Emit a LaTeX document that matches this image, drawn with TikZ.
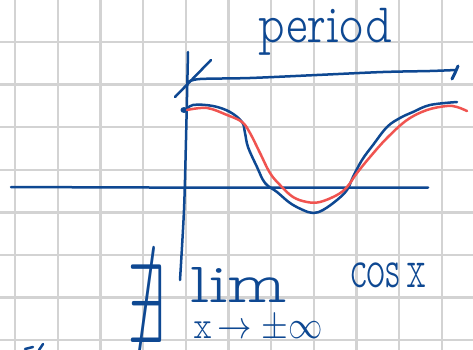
\documentclass[tikz,border=0pt]{standalone}
\usepackage{amssymb}
\usepackage{graphicx}
\definecolor{ink}{RGB}{14,72,146}
\definecolor{redink}{RGB}{240,84,80}
\definecolor{gridc}{RGB}{211,211,211}
\newcommand\handfont{\fontfamily{lmvtt}\fontseries{l}\selectfont}
\tikzset{
  gridline/.style={draw=gridc, line width=2.3pt},
  inkline/.style={draw=ink, line width=2.5pt, line cap=round, line join=round},
  redline/.style={draw=redink, line width=2.5pt, line cap=round, line join=round},
  hand/.style={inner sep=0pt, outer sep=0pt, anchor=north west, text=ink, font=\handfont}
}
\begin{document}
\begin{tikzpicture}[x=1pt,y=-1pt]
\useasboundingbox (0,0) rectangle (473,350);
\fill[white] (0,0) rectangle (473,350);
% grid
\foreach \i in {0,...,10} \draw[gridline] ({15+42.7*\i},0) -- ({15+42.7*\i},350);
\foreach \j in {0,...,7} \draw[gridline] (0,{42+42.6*\j}) -- (473,{42+42.6*\j});
% x axis
\draw[inkline] plot[smooth] coordinates {(11,187) (150,187.5) (300,187.5) (428,187.5)};
% y axis
\draw[inkline] plot[smooth] coordinates {(188,52) (186,140) (184,210) (180,280)};
% diagonal tick
\draw[inkline] (175,97) -- (211,60);
% period line
\draw[inkline] plot[smooth] coordinates {(188,82) (200,79) (250,78) (317,75) (383,72) (430,71) (456,70)};
\draw[inkline, line width=3pt] (458,66) -- (455,73) -- (452,79);
% blue curve
\fill[ink] (184,110) ellipse (3.5pt and 3pt);
\draw[inkline] plot[smooth, tension=0.6] coordinates {(185,111) (193,105) (213,106) (230,112) (242,122) (245,133) (248,147) (257,167) (265,183) (277,192) (290,203) (303,210) (313,213) (323,210) (337,200) (347,190) (353,177) (362,160) (373,145) (387,127) (400,118) (413,112) (430,105) (457,102)};
% red curve
\draw[redline] plot[smooth, tension=0.6] coordinates {(187,110) (207,108) (227,115) (242,122) (250,133) (260,153) (270,173) (280,185) (293,197) (307,202) (320,202) (337,195) (347,187) (357,173) (370,157) (387,138) (407,120) (427,110) (447,106) (457,107) (467,111)};
% texts
\node[hand] (period) at (258,8) {\resizebox*{134pt}{47pt}{period}};
\node[hand] (nexists) at (127,265) {\resizebox*{38pt}{77pt}{$\nexists$}};
\node[hand] (lim) at (190,267) {\resizebox*{97pt}{35pt}{lim}};
\node[hand] (sub) at (193,316) {\resizebox*{130pt}{26pt}{x$\,\to\pm\infty$}};
\node[hand] (cosx) at (350,263) {\resizebox*{77pt}{25pt}{cos\,x}};
% cut-off stroke bottom-left
\draw[inkline] (25,349) -- (33,347);
\draw[inkline] (43,344) -- (39,350);
\end{tikzpicture}
\end{document}
